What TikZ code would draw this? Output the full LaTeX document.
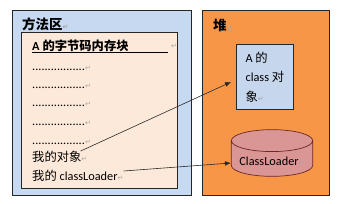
\documentclass[tikz,border=0pt]{standalone}
\usepackage{fontspec}
\setmainfont{Carlito}
\newfontfamily\cjk{Noto Sans CJK SC}
\newfontfamily\symfont{DejaVu Sans}
\usetikzlibrary{positioning,arrows.meta,shapes.geometric}
\definecolor{methodblue}{RGB}{198,217,241}
\definecolor{blockpeach}{RGB}{253,233,217}
\definecolor{heaporange}{RGB}{247,150,70}
\definecolor{classblue}{RGB}{198,214,236}
\definecolor{loaderpink}{RGB}{217,150,148}
\definecolor{loaderedge}{RGB}{110,40,38}
\newcommand\ret{{\symfont\fontsize{6}{6}\selectfont\color{gray!70}↵}}
\tikzset{
  linkarrow/.style={-{Latex[length=1.8mm,width=1.4mm]}, line width=0.5pt, black!85},
  areabox/.style={draw=black!85, line width=0.6pt, anchor=north west, inner sep=0pt},
  classbox/.style={draw=black!85, line width=0.6pt, fill=classblue, anchor=north west, align=left,
    inner sep=0pt, minimum width=1.71cm, minimum height=1.96cm},
  loaderdb/.style={cylinder, shape border rotate=90, aspect=0.3, draw=loaderedge, line width=0.6pt,
    fill=loaderpink, minimum width=2.44cm, minimum height=1.4cm},
  txt/.style={inner sep=0pt, anchor=west, font=\fontsize{10.5}{12}\selectfont},
  heading/.style={inner sep=0pt, anchor=west, font=\cjk\bfseries\fontsize{11.5}{13}\selectfont}
}

\begin{document}
\begin{tikzpicture}[x=0.03cm, y=-0.03cm, >=Latex]
  \useasboundingbox (0,0) rectangle (343,204);
  % method area
  \node[areabox, fill=methodblue, minimum width=5.37cm, minimum height=5.55cm] (method) at (12,10) {};
  \node[heading] (methodtitle) at (22,24) {方法区\ret};
  \node[areabox, fill=blockpeach, minimum width=4.68cm, minimum height=4.68cm] (block) at (21,32) {};
  \node[txt, font=\cjk\bfseries\fontsize{10.5}{12}\selectfont] (bytecode) at (32,46) {{\fontspec{Carlito}A} 的字节码内存块};
  \coordinate (ulend) at (168,52);
  \draw[line width=0.6pt] (bytecode.south west |- ulend) -- (ulend);
  \node[inner sep=0pt] (ulmark) at (174,46) {\ret};
  \foreach \y [count=\i] in {68,86,104,123,142}
    \node[txt] (dots\i) at (32,\y) {.................\ret};
  \node[txt] (obj) at (32,157) {{\cjk 我的对象}\ret};
  \node[txt] (loader) at (32,176) {{\cjk 我的} classLoader\ret};
  % heap
  \node[areabox, fill=heaporange, minimum width=3.81cm, minimum height=5.55cm] (heap) at (202,10) {};
  \node[heading] (heaptitle) at (213,25) {堆\ret};
  \node[classbox, font=\fontsize{10.5}{16.5}\selectfont] (aclass) at (236,44)
    {A {\cjk 的}\\class {\cjk 对}\\{\cjk 象}\ret};
  \node[loaderdb, font=\fontsize{10.5}{12}\selectfont] (loaderobj) at (272,161) {ClassLoader\ret};
  % links
  \draw[linkarrow] ([shift={(-7,0)}]obj.north east) -- ([shift={(-5,5)}]aclass.west);
  \draw[linkarrow] ([shift={(0,-5)}]loader.east) -- ([shift={(0,2)}]loaderobj.west);
\end{tikzpicture}
\end{document}
